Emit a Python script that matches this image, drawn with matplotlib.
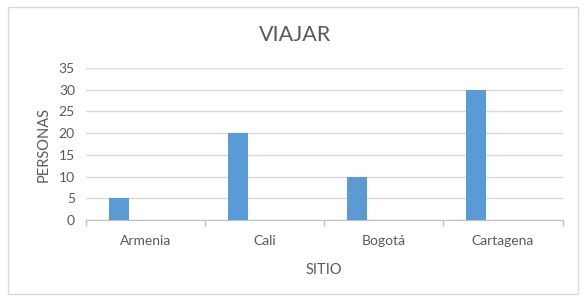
import matplotlib
matplotlib.use("Agg")
import matplotlib.pyplot as plt
from matplotlib.patches import Rectangle
import numpy as np

sitios = ["Armenia", "Cali", "Bogotá", "Cartagena"]
personas = [5, 20, 10, 30]
y_ticks = [0, 5, 10, 15, 20, 25, 30, 35]

plt.rcParams['font.family'] = ['Lato', 'DejaVu Sans']
txt = '#595959'
grid = '#d9d9d9'

fig = plt.figure(figsize=(5.87, 3.06), dpi=100)
ax = fig.add_axes([86 / 587, 1 - 220 / 306, (562.5 - 86) / 587, (220 - 68) / 306])

# borde del grafico
fig.patches.append(Rectangle((8 / 587, 1 - 294 / 306), 570 / 587, 287 / 306,
                             transform=fig.transFigure, fill=False,
                             edgecolor=grid, linewidth=1))

x = np.arange(len(sitios))
ax.bar(x - 0.227, personas, width=0.168, color='#5b9bd5', zorder=3)

ax.set_xlim(-0.5, len(sitios) - 0.5)
ax.set_ylim(0, 35)
ax.set_yticks(y_ticks)
ax.yaxis.grid(True, color=grid, linewidth=1, zorder=0)
ax.tick_params(axis='y', length=0, labelsize=10, labelcolor=txt, pad=8)

ax.set_xticks(x)
ax.set_xticklabels(sitios)
ax.tick_params(axis='x', length=0, labelsize=10, labelcolor=txt, pad=11)
ax.set_xticks(np.arange(len(sitios) + 1) - 0.5, minor=True)
ax.tick_params(axis='x', which='minor', length=4, color='#bfbfbf', width=1)

for s in ['top', 'right', 'left']:
    ax.spines[s].set_visible(False)
ax.spines['bottom'].set_color('#bfbfbf')

ax.set_xlabel("SITIO", fontsize=10.5, color=txt, labelpad=11)
ax.set_ylabel("PERSONAS", fontsize=10.5, color=txt, labelpad=6)
fig.text(295 / 587, 1 - 35 / 306, "VIAJAR", fontsize=15.5, color=txt,
         ha='center', va='center')

fig.savefig("out.png", dpi=100)
